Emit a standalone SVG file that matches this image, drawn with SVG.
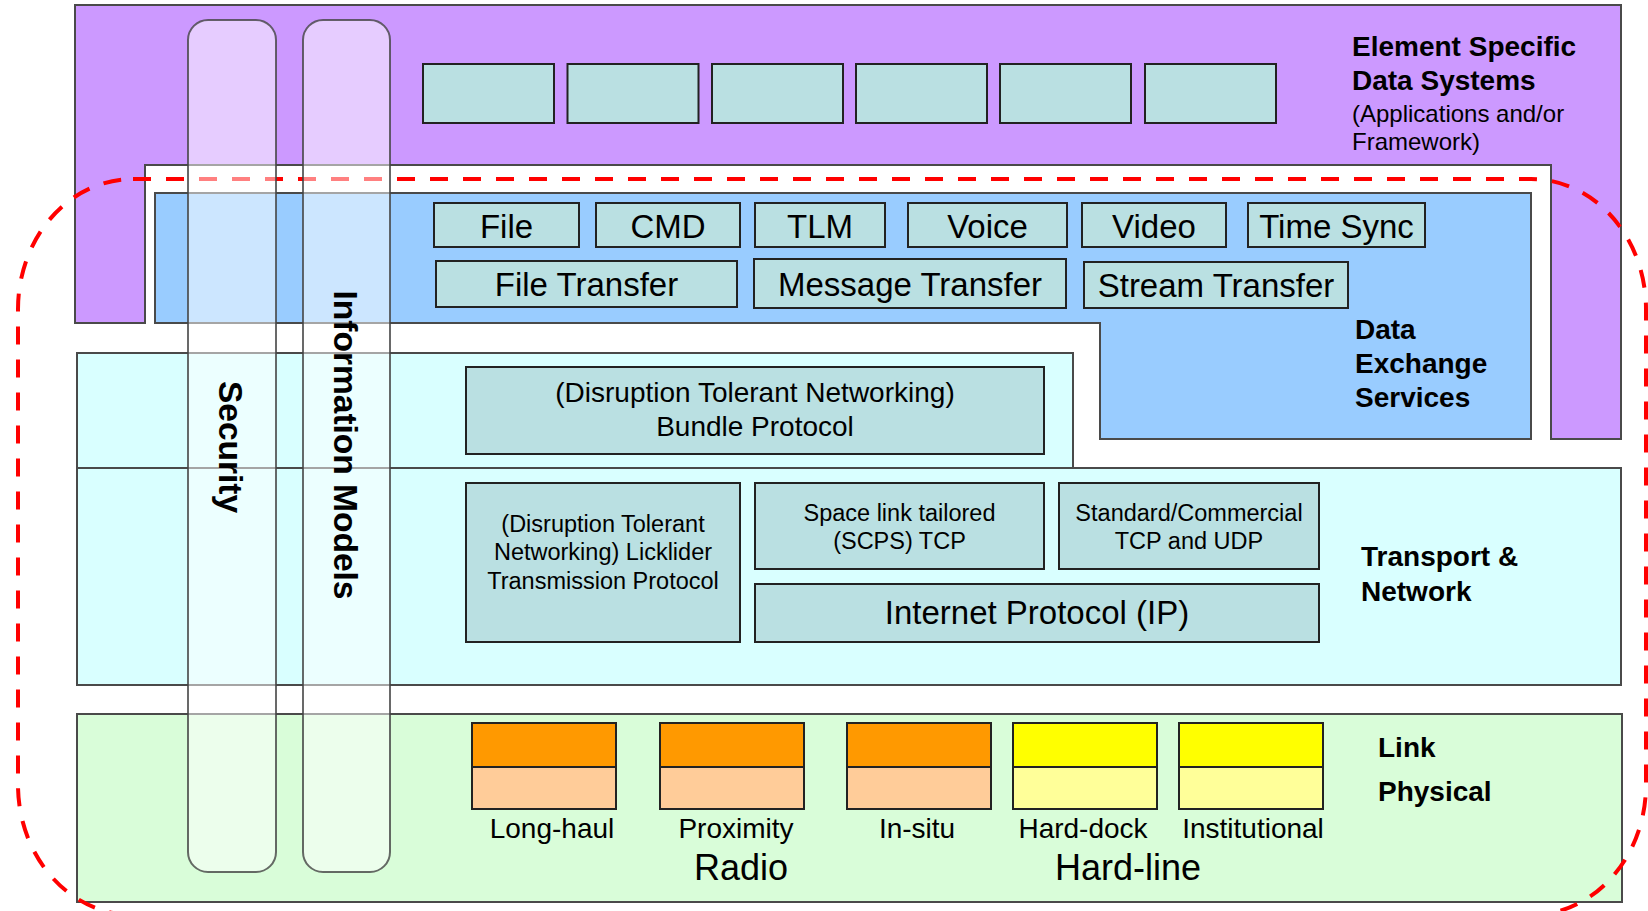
<svg xmlns="http://www.w3.org/2000/svg" width="1648" height="911" viewBox="0 0 1648 911">
  <style>
    text { font-family: "Liberation Sans", Arial, sans-serif; fill: #000; }
    .layer { stroke: #4a4a4a; stroke-width: 2; }
    .box { fill: #BAE0E2; stroke: #222; stroke-width: 2; }
    .hd { font-weight: bold; font-size: 28px; }
    .sub { font-size: 24px; }
    .big { font-size: 33px; text-anchor: middle; }
    .mid { font-size: 28px; text-anchor: middle; }
    .sm { font-size: 23.5px; text-anchor: middle; }
    .lbl { font-size: 28px; text-anchor: middle; }
    .grp { font-size: 36px; text-anchor: middle; }
    .pillar { fill: #fff; fill-opacity: 0.5; stroke: #444; stroke-opacity: 0.8; stroke-width: 2; }
    .pl { font-weight: bold; font-size: 33.5px; text-anchor: middle; }
    .radioL { fill: #FF9900; stroke: #222; stroke-width: 2; }
    .radioP { fill: #FFCC99; stroke: #222; stroke-width: 2; }
    .wireL { fill: #FFFF00; stroke: #222; stroke-width: 2; }
    .wireP { fill: #FFFF99; stroke: #222; stroke-width: 2; }
    .scope { fill: none; stroke: #FF0000; stroke-width: 4; stroke-dasharray: 18 15; }
  </style>

  <rect width="1648" height="911" fill="#fff"/>

  <!-- Element specific data systems layer -->
  <g id="element-specific">
    <polygon class="layer" fill="#CC99FF" points="75,5 1621,5 1621,439 1551,439 1551,165 145,165 145,323 75,323"/>
    <rect class="box" x="423" y="64" width="131" height="59"/>
    <rect class="box" x="567.5" y="64" width="131" height="59"/>
    <rect class="box" x="712" y="64" width="131" height="59"/>
    <rect class="box" x="856" y="64" width="131" height="59"/>
    <rect class="box" x="1000" y="64" width="131" height="59"/>
    <rect class="box" x="1145" y="64" width="131" height="59"/>
    <text class="hd" x="1352" y="56">Element Specific</text>
    <text class="hd" x="1352" y="90">Data Systems</text>
    <text class="sub" x="1352" y="122">(Applications and/or</text>
    <text class="sub" x="1352" y="150">Framework)</text>
  </g>

  <!-- Data exchange services layer -->
  <g id="data-exchange">
    <polygon class="layer" fill="#99CCFF" points="155,193 1531,193 1531,439 1100,439 1100,323 155,323"/>
    <g id="dx-file"><rect class="box" x="434" y="203" width="145" height="44"/><text class="big" x="506.5" y="238">File</text></g>
    <g id="dx-cmd"><rect class="box" x="596" y="203" width="144" height="44"/><text class="big" x="668" y="238">CMD</text></g>
    <g id="dx-tlm"><rect class="box" x="755" y="203" width="130" height="44"/><text class="big" x="820" y="238">TLM</text></g>
    <g id="dx-voice"><rect class="box" x="908" y="203" width="159" height="44"/><text class="big" x="987.5" y="238">Voice</text></g>
    <g id="dx-video"><rect class="box" x="1082" y="203" width="144" height="44"/><text class="big" x="1154" y="238">Video</text></g>
    <g id="dx-timesync"><rect class="box" x="1248" y="203" width="177" height="44"/><text class="big" x="1336.5" y="238">Time Sync</text></g>
    <g id="dx-filetransfer"><rect class="box" x="436" y="261" width="301" height="46"/><text class="big" x="586.5" y="296">File Transfer</text></g>
    <g id="dx-msgtransfer"><rect class="box" x="754" y="259" width="312" height="49"/><text class="big" x="910" y="296">Message Transfer</text></g>
    <g id="dx-streamtransfer"><rect class="box" x="1084" y="262" width="264" height="46"/><text class="big" x="1216" y="297">Stream Transfer</text></g>
    <text class="hd" x="1355" y="339">Data</text>
    <text class="hd" x="1355" y="373">Exchange</text>
    <text class="hd" x="1355" y="407">Services</text>
  </g>

  <!-- Bundle layer -->
  <g id="bundle-layer">
    <rect class="layer" fill="#D9FFFF" x="77" y="353" width="996" height="115"/>
    <rect class="box" x="466" y="367" width="578" height="87"/>
    <text class="mid" x="755" y="402">(Disruption Tolerant Networking)</text>
    <text class="mid" x="755" y="436">Bundle Protocol</text>
  </g>

  <!-- Transport and network layer -->
  <g id="transport-network">
    <rect class="layer" fill="#D9FFFF" x="77" y="468" width="1544" height="217"/>
    <g id="ltp">
      <rect class="box" x="466" y="483" width="274" height="159"/>
      <text class="sm" x="603" y="532">(Disruption Tolerant</text>
      <text class="sm" x="603" y="560">Networking) Licklider</text>
      <text class="sm" x="603" y="589">Transmission Protocol</text>
    </g>
    <g id="scps-tcp">
      <rect class="box" x="755" y="483" width="289" height="86"/>
      <text class="sm" x="899.5" y="521">Space link tailored</text>
      <text class="sm" x="899.5" y="549">(SCPS) TCP</text>
    </g>
    <g id="tcp-udp">
      <rect class="box" x="1059" y="483" width="260" height="86"/>
      <text class="sm" x="1189" y="521">Standard/Commercial</text>
      <text class="sm" x="1189" y="549">TCP and UDP</text>
    </g>
    <g id="ip">
      <rect class="box" x="755" y="584" width="564" height="58"/>
      <text class="big" x="1037" y="624">Internet Protocol (IP)</text>
    </g>
    <text class="hd" x="1361" y="566">Transport &amp;</text>
    <text class="hd" x="1361" y="601">Network</text>
  </g>

  <!-- Link / physical layer -->
  <g id="link-physical">
    <rect class="layer" fill="#D9FDD9" x="77" y="714" width="1545" height="188"/>
    <g id="long-haul">
      <rect class="radioL" x="472" y="723" width="144" height="44"/>
      <rect class="radioP" x="472" y="767" width="144" height="42"/>
      <text class="lbl" x="552" y="838">Long-haul</text>
    </g>
    <g id="proximity">
      <rect class="radioL" x="660" y="723" width="144" height="44"/>
      <rect class="radioP" x="660" y="767" width="144" height="42"/>
      <text class="lbl" x="736" y="838">Proximity</text>
    </g>
    <g id="in-situ">
      <rect class="radioL" x="847" y="723" width="144" height="44"/>
      <rect class="radioP" x="847" y="767" width="144" height="42"/>
      <text class="lbl" x="917" y="838">In-situ</text>
    </g>
    <g id="hard-dock">
      <rect class="wireL" x="1013" y="723" width="144" height="44"/>
      <rect class="wireP" x="1013" y="767" width="144" height="42"/>
      <text class="lbl" x="1083" y="838">Hard-dock</text>
    </g>
    <g id="institutional">
      <rect class="wireL" x="1179" y="723" width="144" height="44"/>
      <rect class="wireP" x="1179" y="767" width="144" height="42"/>
      <text class="lbl" x="1253" y="838">Institutional</text>
    </g>
    <text class="grp" x="741" y="880">Radio</text>
    <text class="grp" x="1128" y="880">Hard-line</text>
    <text class="hd" x="1378" y="757">Link</text>
    <text class="hd" x="1378" y="801">Physical</text>
  </g>

  <!-- Scope boundary -->
  <g id="scope">
    <rect class="scope" x="18" y="179" width="1628" height="736" rx="115" ry="130"/>
  </g>

  <!-- Cross-cutting pillars -->
  <g id="security">
    <rect class="pillar" x="188" y="20" width="88" height="852" rx="20" ry="20"/>
    <text class="pl" transform="translate(231,447) rotate(90)" x="0" y="12">Security</text>
  </g>
  <g id="information-models">
    <rect class="pillar" x="303" y="20" width="87" height="852" rx="20" ry="20"/>
    <text class="pl" transform="translate(346,445) rotate(90)" x="0" y="12">Information Models</text>
  </g>
</svg>
